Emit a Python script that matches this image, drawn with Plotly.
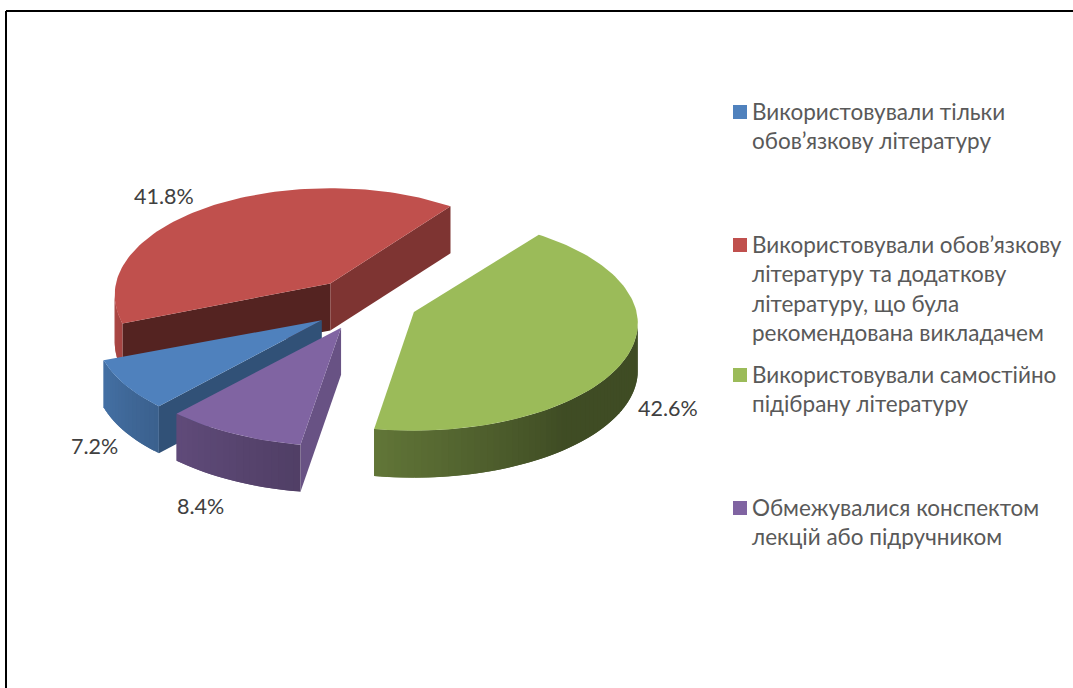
import math
import numpy as np
import plotly.graph_objects as go

categories = [
    "Використовували тільки<br>обов’язкову літературу",
    "Використовували обов’язкову<br>літературу та додаткову<br>літературу, що була<br>рекомендована викладачем",
    "Використовували самостійно<br>підібрану літературу",
    "Обмежувалися конспектом<br>лекцій або підручником",
]
values = [7.2, 41.8, 42.6, 8.4]
colors = ["#4F81BD", "#C0504D", "#9BBB59", "#8064A2"]
cut_shades = [0.63, 0.44, 0.66, 0.82]
second_cut_shades = [0.63, 0.66, 0.5, 0.82]

W, H = 1073, 688
START = 216.5
CX, CY = 366, 303
A, B, P = 220, 107, 0.11
EXPL, KE = 53, 0.5
DEPTH = 47
DRAW_ORDER = [1, 2, 0, 3]
legend_y = [112, 245, 375, 508]
label_pos = [(164, 196), (668, 408), (94, 446), (200, 506)]
label_vals = [41.8, 42.6, 7.2, 8.4]


def shade(hexcol, k):
    r, g, b = [int(hexcol[i:i + 2], 16) for i in (1, 3, 5)]
    return f"rgb({int(r * k)},{int(g * k)},{int(b * k)})"


def light(theta):
    t = theta % 360
    return float(np.interp(t, [0, 140, 186, 216, 242, 270, 360], [.41, .41, .63, .75, .87, .9, .9]))


def warp(theta):
    # perspective correction of the disc angle
    t = (theta - 33) % 360 + 33
    return theta + float(np.interp(t, [33, 90, 186, 216, 242, 300, 393], [5, 0, 3, 5.5, 6.5, 5, 5]))


def rim(theta, ax, ay, sx):
    th = math.radians(warp(theta))
    f = 1 + P * (-math.cos(th))
    return ax + sx * A * math.sin(th) * f, ay - B * math.cos(th) * f


fig = go.Figure()


def poly(xs, ys, col):
    fig.add_trace(go.Scatter(x=xs, y=ys, mode="lines", fill="toself", fillcolor=col,
                             line=dict(color=col, width=0), hoverinfo="skip", showlegend=False))


total = sum(values)
spans = []
cur = START
for v in values:
    spans.append((cur, cur + v / total * 360))
    cur = spans[-1][1]

for i in DRAW_ORDER:
    t0, t1 = spans[i]
    mid = math.radians((t0 + t1) / 2)
    ax = CX + EXPL * math.sin(mid) - 6 * max(0.0, -math.cos(mid))
    ay = CY - EXPL * KE * math.cos(mid)
    sx = 1 - 0.035 * math.cos(mid)   # nearer slices look slightly wider
    col = colors[i]
    thetas = np.linspace(t0, t1, int(max(8, (t1 - t0) / 1.5)))
    pts = [rim(t, ax, ay, sx) for t in thetas]
    mx, my = rim((t0 + t1) / 2, ax, ay, sx)

    for end, k in ((pts[0], cut_shades[i]), (pts[-1], second_cut_shades[i])):
        ex, ey = end
        if abs(ex - ax) < 1e-6:
            continue
        line_y = ay + (ey - ay) * (mx - ax) / (ex - ax)
        if my < line_y:
            poly([ax, ex, ex, ax, ax], [ay, ey, ey + DEPTH, ay + DEPTH, ay], shade(col, k))

    strips = [j for j in range(len(pts) - 1) if pts[j + 1][0] < pts[j][0]]
    for n, j in enumerate(strips):
        jn = j + 1 if n == len(strips) - 1 else j + 2
        xs = [p[0] for p in pts[j:jn + 1]]
        ys = [p[1] for p in pts[j:jn + 1]]
        tm = (thetas[j] + thetas[j + 1]) / 2
        poly(xs + xs[::-1] + [xs[0]], ys + [y + DEPTH for y in ys[::-1]] + [ys[0]], shade(col, light(tm)))

    poly([ax] + [p[0] for p in pts] + [ax], [ay] + [p[1] for p in pts] + [ay], col)

annotations = []
for v, (x, y) in zip(label_vals, label_pos):
    annotations.append(dict(x=x, y=y, text=f"{v:.1f}%", showarrow=False, xanchor="center", yanchor="middle",
                            font=dict(family="Lato", size=21.5, color="#404040")))
for name, col, y in zip(categories, colors, legend_y):
    fig.add_trace(go.Scatter(x=[740], y=[y], mode="markers", hoverinfo="skip", showlegend=False,
                             marker=dict(symbol="square", size=14, color=col, line=dict(width=0))))
    annotations.append(dict(x=750, y=y - 16, text=name, showarrow=False, xanchor="left", yanchor="top", align="left",
                            font=dict(family="Lato", size=22.5, color="#595959")))

frame = [dict(type="line", x0=6, x1=6, y0=11, y1=H, line=dict(color="#000", width=2)),
         dict(type="line", x0=6, x1=W, y0=11, y1=11, line=dict(color="#000", width=2))]

fig.update_layout(width=W, height=H, margin=dict(l=0, r=0, t=0, b=0), paper_bgcolor="white", plot_bgcolor="white",
                  xaxis=dict(range=[0, W], visible=False), yaxis=dict(range=[H, 0], visible=False),
                  annotations=annotations, shapes=frame, showlegend=False)
fig.write_html("out.html", config=dict(displayModeBar=False),
               post_script="document.body.style.margin='0';document.body.style.overflow='hidden';")
